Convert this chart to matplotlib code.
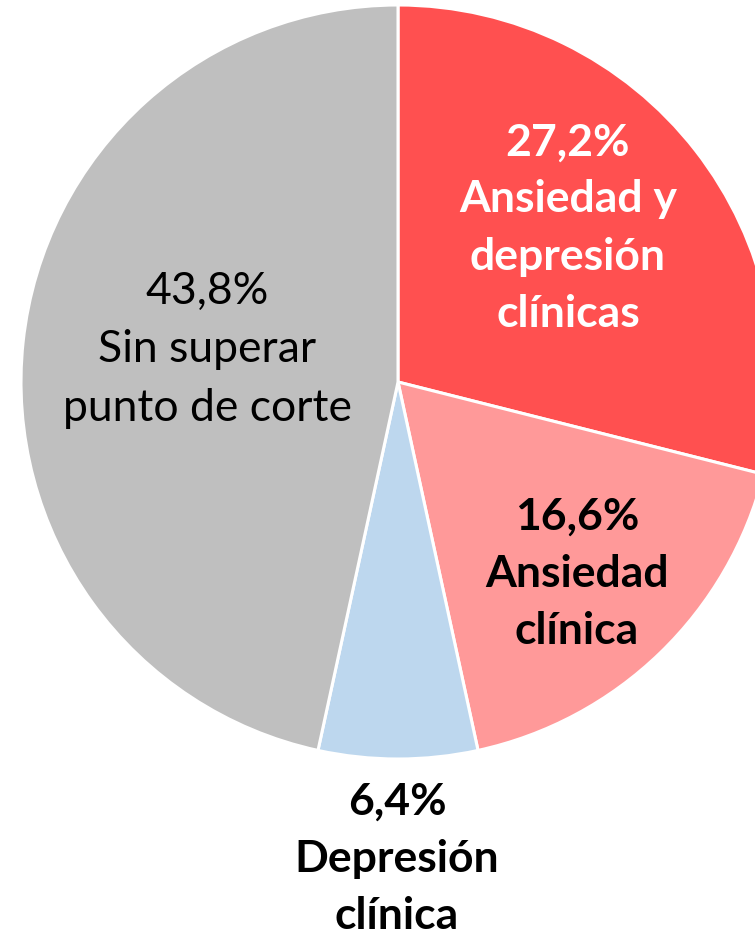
import matplotlib
matplotlib.use('Agg')
import matplotlib.pyplot as plt

plt.rcParams['font.family'] = ['Lato', 'DejaVu Sans']

# data
values = [27.2, 16.6, 6.4, 43.8]
labels = ['27,2%\nAnsiedad y\ndepresión\nclínicas',
          '16,6%\nAnsiedad\nclínica',
          '6,4%\nDepresión\nclínica',
          '43,8%\nSin superar\npunto de corte']
colors = ['#FF5050', '#FF9999', '#BDD7EE', '#BFBFBF']
label_colors = ['white', 'black', 'black', 'black']
label_weights = ['bold', 'bold', 'bold', 'normal']
label_pos = [(568, 228), (577, 574), (397, 859), (207, 350)]

W, H = 755, 937
fig = plt.figure(figsize=(W / 100, H / 100), dpi=100)
ax = fig.add_axes([0, 0, 1, 1])

# pie (drawn counterclockwise in inverted y => clockwise on screen)
ax.pie(values, colors=colors, startangle=-90, counterclock=True,
       center=(398, 383), radius=377, frame=True,
       wedgeprops=dict(edgecolor='white', linewidth=2.2))
ax.set_xlim(0, W)
ax.set_ylim(H, 0)
ax.set_aspect('equal')
ax.axis('off')

for lab, (x, y), c, w in zip(labels, label_pos, label_colors, label_weights):
    ax.text(x, y, lab, ha='center', va='center', color=c, fontweight=w,
            fontsize=32, linespacing=1.52)

fig.savefig('out.png', dpi=100)
